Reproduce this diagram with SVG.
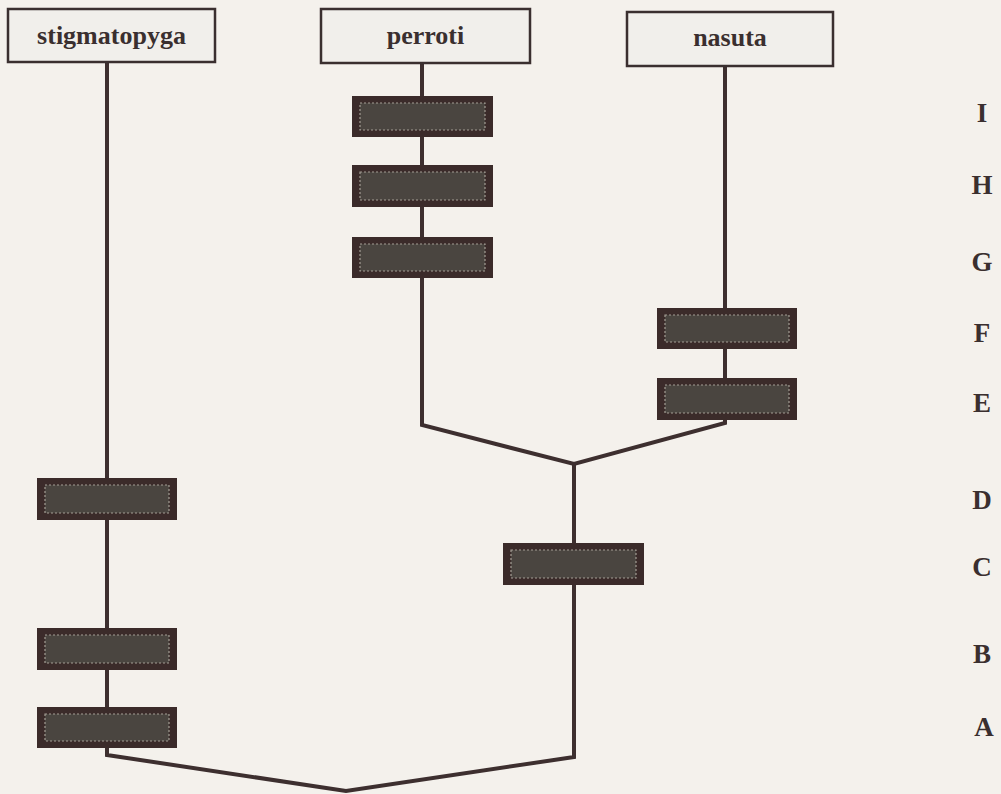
<svg xmlns="http://www.w3.org/2000/svg" width="1001" height="794" viewBox="0 0 1001 794">
  <style>
    .taxon rect { fill: #f1efeb; stroke: #3a2f2f; stroke-width: 2.5; }
    .taxon text { font-family: "Liberation Serif", "DejaVu Serif", serif; font-weight: bold; font-size: 26px; fill: #3a2f2f; text-anchor: middle; }
    .event .outer { fill: #3b2b2a; }
    .event .inner { fill: #4a4540; stroke: #a39d94; stroke-width: 1.2; stroke-dasharray: 2 2; }
    .level { font-family: "Liberation Serif", "DejaVu Serif", serif; font-weight: bold; font-size: 27px; fill: #3a2f2f; text-anchor: middle; }
    .branch { fill: none; stroke: #3d2f2f; stroke-width: 4; stroke-linejoin: miter; }
  </style>
  <rect width="1001" height="794" fill="#f4f1ec"/>

  <g id="connectors">
    <path class="branch" d="M107,62 V755 L346,791 L574,757 V464"/>
    <path class="branch" d="M422,63 V425 L574,464 L725,423 V66"/>
  </g>

  <g id="taxon-stigmatopyga" class="taxon">
    <rect x="8" y="9" width="207" height="53"/>
    <text x="111.5" y="44">stigmatopyga</text>
  </g>
  <g id="taxon-perroti" class="taxon">
    <rect x="321" y="9" width="209" height="54"/>
    <text x="425.5" y="44">perroti</text>
  </g>
  <g id="taxon-nasuta" class="taxon">
    <rect x="627" y="12" width="206" height="54"/>
    <text x="730" y="46">nasuta</text>
  </g>

  <g id="event-perroti-I" class="event">
    <rect class="outer" x="352" y="96" width="141" height="41"/>
    <rect class="inner" x="360" y="103" width="125" height="27"/>
  </g>
  <g id="event-perroti-H" class="event">
    <rect class="outer" x="352" y="165" width="141" height="42"/>
    <rect class="inner" x="360" y="172" width="125" height="28"/>
  </g>
  <g id="event-perroti-G" class="event">
    <rect class="outer" x="352" y="237" width="141" height="41"/>
    <rect class="inner" x="360" y="244" width="125" height="27"/>
  </g>
  <g id="event-nasuta-F" class="event">
    <rect class="outer" x="657" y="308" width="140" height="41"/>
    <rect class="inner" x="665" y="315" width="124" height="27"/>
  </g>
  <g id="event-nasuta-E" class="event">
    <rect class="outer" x="657" y="378" width="140" height="42"/>
    <rect class="inner" x="665" y="385" width="124" height="28"/>
  </g>
  <g id="event-stigmatopyga-D" class="event">
    <rect class="outer" x="37" y="478" width="140" height="42"/>
    <rect class="inner" x="45" y="485" width="124" height="28"/>
  </g>
  <g id="event-ancestral-C" class="event">
    <rect class="outer" x="503" y="543" width="141" height="42"/>
    <rect class="inner" x="511" y="550" width="125" height="28"/>
  </g>
  <g id="event-stigmatopyga-B" class="event">
    <rect class="outer" x="37" y="628" width="140" height="42"/>
    <rect class="inner" x="45" y="635" width="124" height="28"/>
  </g>
  <g id="event-stigmatopyga-A" class="event">
    <rect class="outer" x="37" y="707" width="140" height="41"/>
    <rect class="inner" x="45" y="714" width="124" height="27"/>
  </g>

  <g id="levels">
    <text class="level" x="982" y="122">I</text>
    <text class="level" x="982" y="194">H</text>
    <text class="level" x="982" y="271">G</text>
    <text class="level" x="982" y="342">F</text>
    <text class="level" x="982" y="412">E</text>
    <text class="level" x="982" y="509">D</text>
    <text class="level" x="982" y="576">C</text>
    <text class="level" x="982" y="663">B</text>
    <text class="level" x="984" y="736">A</text>
  </g>
</svg>
